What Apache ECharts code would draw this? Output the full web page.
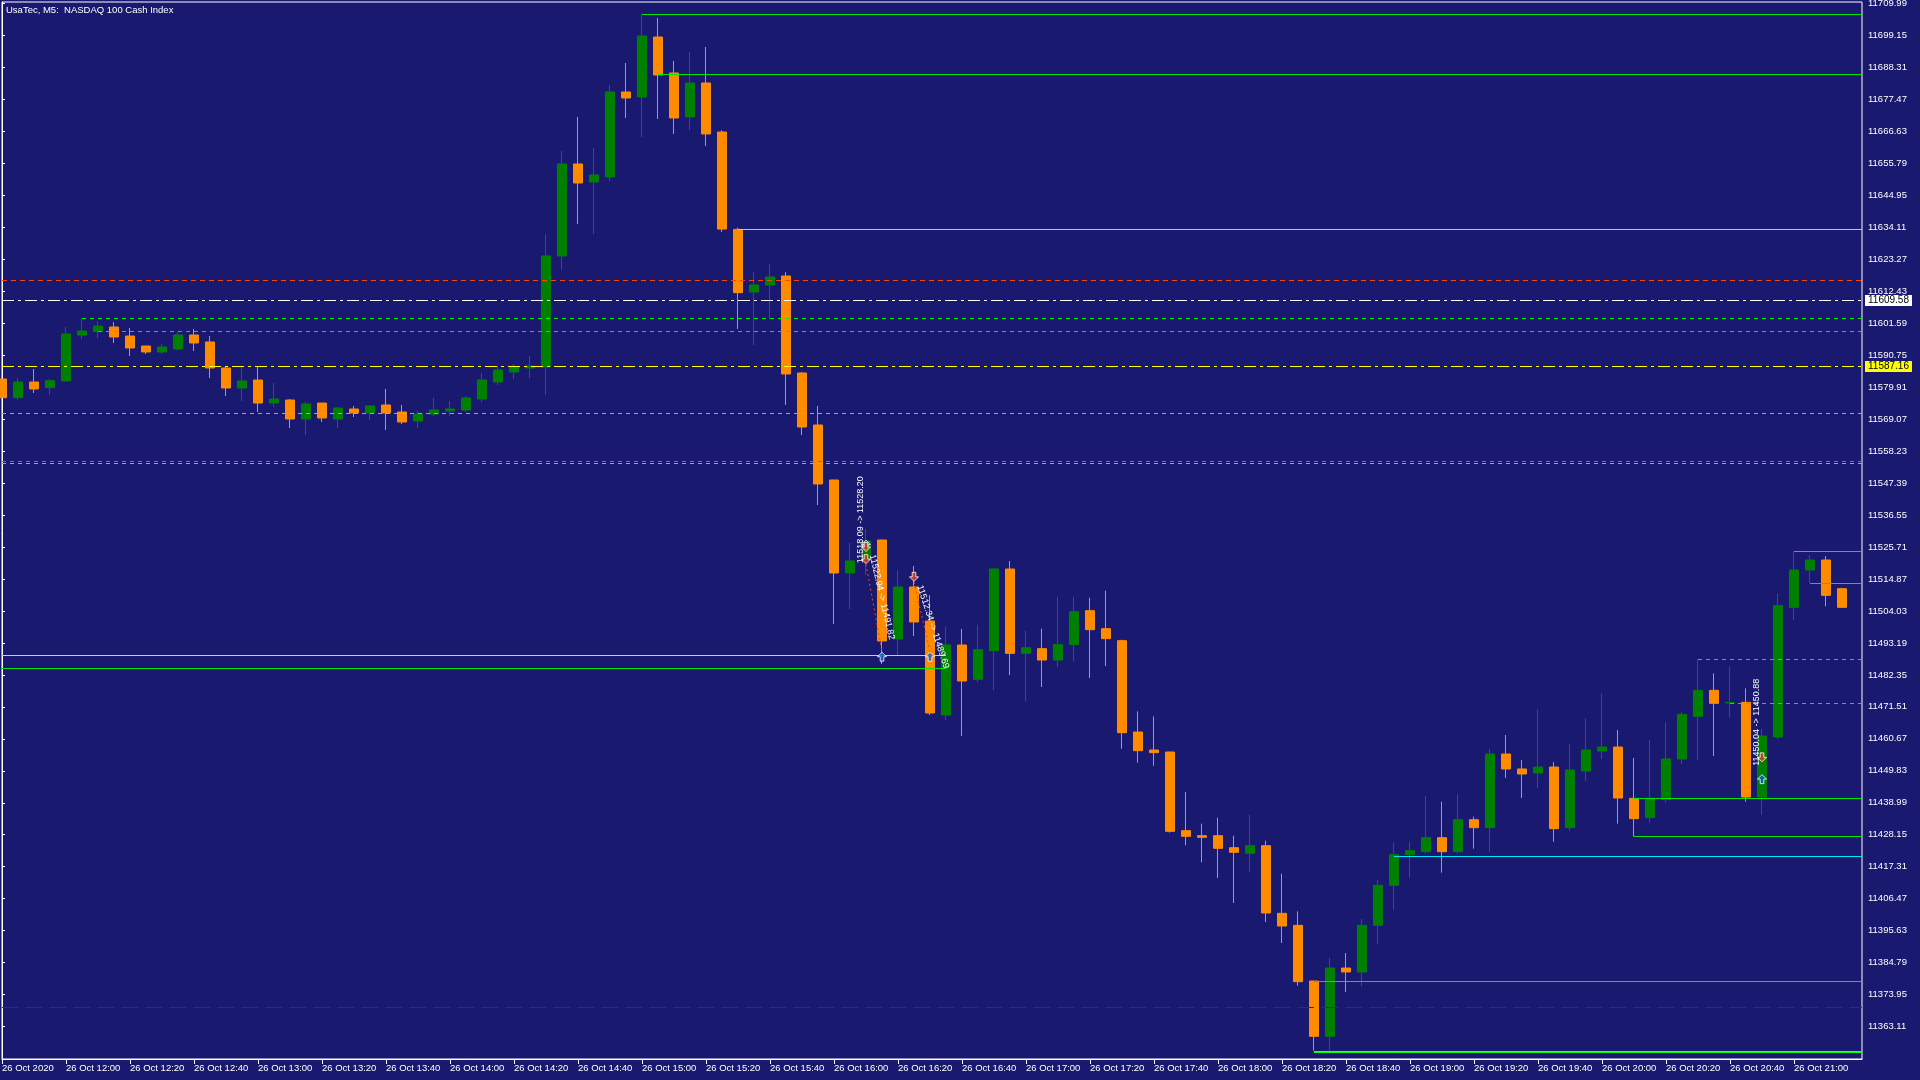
<!DOCTYPE html>
<html><head><meta charset="utf-8">
<script src="https://cdn.jsdelivr.net/npm/echarts@6/dist/echarts.min.js"></script>
<style>html,body{margin:0;padding:0;background:#191970;}#c{width:1920px;height:1080px;}</style>
</head><body><div id="c"></div>
<script>
// ---------------- DATA ----------------
const TITLE = 'UsaTec, M5:  NASDAQ 100 Cash Index';
const TIMES = ['11:40','11:45','11:50','11:55',
'12:00','12:05','12:10','12:15','12:20','12:25','12:30','12:35','12:40','12:45','12:50','12:55',
'13:00','13:05','13:10','13:15','13:20','13:25','13:30','13:35','13:40','13:45','13:50','13:55',
'14:00','14:05','14:10','14:15','14:20','14:25','14:30','14:35','14:40','14:45','14:50','14:55',
'15:00','15:05','15:10','15:15','15:20','15:25','15:30','15:35','15:40','15:45','15:50','15:55',
'16:00','16:05','16:10','16:15','16:20','16:25','16:30','16:35','16:40','16:45','16:50','16:55',
'17:00','17:05','17:10','17:15','17:20','17:25','17:30','17:35','17:40','17:45','17:50','17:55',
'18:00','18:05','18:10','18:15','18:20','18:25','18:30','18:35','18:40','18:45','18:50','18:55',
'19:00','19:05','19:10','19:15','19:20','19:25','19:30','19:35','19:40','19:45','19:50','19:55',
'20:00','20:05','20:10','20:15','20:20','20:25','20:30','20:35','20:40','20:45','20:50','20:55',
'21:00','21:05','21:10','21:15'];
const OPEN = [11582.67,11576.34,11581.65,11579.73,
11581.99,11597.59,11598.72,11600.30,11597.25,11593.86,11591.83,11592.84,11597.59,11595.22,11586.40,11579.62,
11582.33,11574.53,11575.55,11569.11,11574.53,11569.11,11572.50,11571.14,11573.86,11571.48,11568.43,11570.80,
11571.83,11572.16,11575.89,11581.66,11585.05,11586.41,11586.75,11624.38,11655.58,11649.47,11651.17,11679.99,
11678.29,11698.63,11686.43,11671.51,11683.04,11666.42,11633.40,11612.17,11614.54,11617.60,11584.71,11567.08,
11548.43,11516.90,11521.30,11528.08,11494.52,11512.15,11500.62,11468.75,11492.48,11480.84,11490.56,11518.25,
11489.65,11491.24,11487.39,11492.59,11504.12,11498.02,11493.95,11462.98,11456.88,11456.20,11429.53,11427.83,
11427.83,11423.76,11421.84,11424.44,11401.50,11397.43,11378.56,11359.79,11382.96,11381.61,11397.43,11410.99,
11421.39,11422.41,11427.15,11422.41,11433.26,11430.55,11455.52,11450.44,11449.08,11451.11,11430.55,11449.76,
11456.54,11457.89,11440.49,11433.94,11440.15,11453.83,11468.29,11477.11,11472.80,11473.04,11440.94,11461.29,
11505.25,11517.91,11521.30,11511.58];
const CLOSE = [11576.34,11581.65,11579.28,11582.10,
11597.93,11598.95,11600.64,11596.91,11593.18,11591.83,11593.52,11597.59,11594.88,11586.40,11579.62,11581.99,
11574.53,11575.89,11569.11,11574.19,11569.45,11572.84,11571.14,11573.52,11571.14,11568.09,11570.80,11572.16,
11572.50,11576.23,11582.34,11585.72,11586.75,11587.08,11624.38,11655.58,11649.13,11651.85,11679.99,11677.95,
11698.97,11685.75,11671.17,11683.04,11665.75,11633.50,11611.94,11614.54,11617.26,11584.37,11566.40,11547.07,
11516.90,11520.96,11527.75,11493.84,11512.15,11500.28,11469.43,11492.48,11480.28,11490.90,11518.25,11489.65,
11491.57,11487.39,11492.59,11503.78,11497.68,11494.63,11462.76,11456.65,11455.97,11429.30,11427.61,11427.27,
11423.54,11422.18,11424.44,11401.61,11397.20,11378.33,11359.79,11382.96,11381.61,11397.43,11410.99,11421.39,
11422.75,11427.15,11422.41,11433.26,11430.55,11455.52,11450.44,11448.74,11451.11,11430.21,11450.10,11456.88,
11457.89,11440.60,11433.60,11440.49,11453.83,11468.97,11477.11,11472.70,11473.00,11440.94,11461.62,11505.82,
11517.91,11521.30,11509.32,11505.25];
const LOW = [11575.80,11575.66,11577.92,11577.25,
11581.80,11596.23,11596.57,11594.88,11590.47,11591.15,11591.15,11592.50,11592.16,11583.01,11576.91,11575.21,
11571.48,11573.18,11566.06,11563.68,11568.09,11566.06,11569.79,11568.77,11565.38,11567.41,11566.06,11570.12,
11570.24,11571.49,11574.88,11580.64,11582.68,11583.02,11577.25,11619.64,11635.23,11631.84,11649.81,11671.17,
11664.73,11670.83,11665.75,11667.10,11661.68,11632.50,11599.63,11594.20,11603.02,11573.86,11563.69,11539.95,
11499.60,11504.69,11516.22,11486.04,11488.75,11495.54,11468.75,11467.06,11461.63,11479.93,11477.22,11482.31,
11473.49,11478.24,11485.02,11487.05,11481.29,11485.36,11457.33,11452.58,11451.57,11428.85,11424.56,11418.79,
11413.48,11405.00,11415.40,11398.56,11391.44,11376.97,11354.94,11354.94,11374.83,11376.86,11391.10,11402.63,
11413.48,11421.73,11415.29,11421.73,11423.42,11422.41,11447.39,11440.60,11443.99,11425.80,11429.53,11446.37,
11453.83,11431.90,11427.49,11432.24,11439.02,11452.13,11453.49,11454.84,11467.95,11439.36,11434.95,11460.61,
11500.84,11513.50,11505.59,11505.20];
const HIGH = [11583.50,11583.01,11586.06,11582.67,
11600.30,11603.24,11602.34,11602.00,11599.96,11593.86,11594.54,11598.61,11599.62,11597.25,11587.08,11586.74,
11586.74,11581.31,11575.89,11574.87,11574.53,11573.18,11573.52,11573.86,11579.28,11573.86,11571.82,11576.23,
11575.22,11576.91,11584.71,11587.08,11587.76,11590.48,11631.84,11659.98,11671.51,11660.99,11682.36,11689.82,
11706.43,11705.08,11690.50,11693.55,11695.25,11667.00,11634.00,11618.95,11621.66,11618.95,11585.05,11573.52,
11548.50,11527.07,11531.81,11528.20,11517.91,11519.27,11509.43,11498.59,11497.91,11499.37,11518.59,11520.96,
11497.34,11498.02,11508.87,11508.87,11508.53,11510.90,11494.29,11469.99,11468.29,11456.30,11442.64,11431.90,
11433.94,11427.83,11434.95,11426.14,11414.95,11402.18,11378.60,11386.35,11388.05,11399.58,11412.69,11425.46,
11425.80,11441.28,11439.36,11441.96,11434.28,11457.22,11461.96,11453.49,11470.67,11452.81,11458.91,11467.62,
11476.09,11463.66,11454.17,11460.27,11466.37,11469.65,11487.62,11482.87,11485.25,11477.79,11464.00,11509.88,
11524.24,11523.00,11522.66,11511.92];

const Y_TICKS = [11363.11,11373.95,11384.79,11395.63,11406.47,11417.31,11428.15,11438.99,11449.83,11460.67,
11471.51,11482.35,11493.19,11504.03,11514.87,11525.71,11536.55,11547.39,11558.23,11569.07,11579.91,11590.75,
11601.59,11612.43,11623.27,11634.11,11644.95,11655.79,11666.63,11677.47,11688.31,11699.15,11709.99];
const X_TICK_TIMES = ['11:40','12:00','12:20','12:40','13:00','13:20','13:40','14:00','14:20','14:40','15:00','15:20',
'15:40','16:00','16:20','16:40','17:00','17:20','17:40','18:00','18:20','18:40','19:00','19:20','19:40','20:00',
'20:20','20:40','21:00'];
const X_TICK_LABELS = ['26 Oct 2020','26 Oct 12:00','26 Oct 12:20','26 Oct 12:40','26 Oct 13:00','26 Oct 13:20',
'26 Oct 13:40','26 Oct 14:00','26 Oct 14:20','26 Oct 14:40','26 Oct 15:00','26 Oct 15:20','26 Oct 15:40',
'26 Oct 16:00','26 Oct 16:20','26 Oct 16:40','26 Oct 17:00','26 Oct 17:20','26 Oct 17:40','26 Oct 18:00',
'26 Oct 18:20','26 Oct 18:40','26 Oct 19:00','26 Oct 19:20','26 Oct 19:40','26 Oct 20:00','26 Oct 20:20',
'26 Oct 20:40','26 Oct 21:00'];

// horizontal price levels (from time: null = left edge; to time: null = right edge)
const LEVEL_PRICE = [11706.33,11685.99,11633.43,11616.13,11609.58,11603.25,11598.95,11587.16,11571.04,11554.77,
11554.08,11524.24,11513.50,11487.63,11472.92,11440.50,11427.60,11421.00,11378.45,11354.90,11354.50,11369.60,
11488.99,11484.58];
const LEVEL_FROM = ['15:00','15:05','15:30',null,null,'12:05','12:10',null,null,null,
null,'21:00','21:05','20:30','20:40','20:10','20:10','18:55','18:30','18:30','18:30',null,
null,null];
const LEVEL_TO = [null,null,null,null,null,null,null,null,null,null,
null,null,null,null,null,null,null,null,null,null,null,null,
'16:35','16:35'];
const PRICE_TAGS = [11609.58, 11587.16];

// trade history marks
const TRADE_MARK_TIME = ['16:10','16:10','16:10','16:15','16:25','16:30','20:50','20:50'];
const TRADE_MARK_PRICE = [11528.20,11524.00,11519.90,11490.20,11513.90,11490.20,11452.70,11448.70];
const TRADE_MARK_SIDE = ['buy','sell','sell','buy','sell','buy','sell','buy'];
const TRADE_LINK_FROM = [2, 4];
const TRADE_LINK_TO = [3, 5];
const TRADE_TEXT = ['11518.09 -> 11528.20','11522.94 -> 11491.82','11512.34 -> 11489.69','11450.04 -> 11450.88'];
const TRADE_TEXT_AT = [0, 2, 4, 6];

// ---------------- LAYOUT / STYLE ----------------
const X_MIN = 0, X_MAX = 116.25, Y_MIN = 11352.11, Y_MAX = 11710.50;
const FONT = 'Liberation Sans';
const idx = t => TIMES.indexOf(t);

const levelStyles = [
  {c:'#00e600',t:'solid'},{c:'#00e600',t:'solid'},{c:'#6fe0ff',t:'solid'},{c:'#ff4500',t:[5,4]},
  {c:'#ffffff',t:[12,4,3,4]},{c:'#00f000',t:[4,4]},{c:'#22d022',t:[4,4]},{c:'#ffff00',t:[12,4,3,4]},
  {c:'#30d0ff',t:[4,4]},{c:'#ff4500',t:[4,4]},{c:'#30d0ff',t:[4,4]},{c:'#00e600',t:'solid'},
  {c:'#00e600',t:'solid'},{c:'#00f000',t:[4,4]},{c:'#00f000',t:[4,4]},{c:'#00e600',t:'solid'},
  {c:'#00e600',t:'solid'},{c:'#00e8ff',t:'solid'},{c:'#00e600',t:'solid'},{c:'#00f0ff',t:'solid'},
  {c:'#00ff00',t:'solid'},{c:'#1a1aff',t:[16,8]},{c:'#c0c8ff',t:'solid'},{c:'#00e600',t:'solid'}
];

const candleData = TIMES.map((t, i) => [i, OPEN[i], CLOSE[i], LOW[i], HIGH[i]]);

const levelData = LEVEL_PRICE.map((p, j) => [
  LEVEL_FROM[j] == null ? X_MIN : idx(LEVEL_FROM[j]),
  LEVEL_TO[j] == null ? X_MAX : idx(LEVEL_TO[j]),
  p, j
]);

const linkLines = TRADE_LINK_FROM.map((a, j) => {
  const b = TRADE_LINK_TO[j];
  return [
    {coord:[idx(TRADE_MARK_TIME[a]), TRADE_MARK_PRICE[a]], lineStyle:{color:'#ff4500', type:[2,3], width:1}},
    {coord:[idx(TRADE_MARK_TIME[b]), TRADE_MARK_PRICE[b]]}
  ];
});

const UP = 'path://M5,0 L10,5 L7,5 L7,10 L3,10 L3,5 L0,5 Z';
const DOWN = 'path://M3,0 L7,0 L7,5 L10,5 L5,10 L0,5 L3,5 Z';
const markData = TRADE_MARK_TIME.map((t, j) => ({
  value:[idx(t), TRADE_MARK_PRICE[j]],
  symbol: TRADE_MARK_SIDE[j] === 'buy' ? UP : DOWN,
  symbolOffset: TRADE_MARK_SIDE[j] === 'buy' ? [0, 5] : [0, -5],
  itemStyle:{color: TRADE_MARK_SIDE[j] === 'buy' ? '#0a5cc8' : '#e8341c', borderColor:'#fff', borderWidth:1}
}));

// text placement relative to its anchor mark (screen px) and rotation (deg, ccw)
const textRot = [90, -77, -72, 90];
const textOff = [[-5,-20],[16,33],[19,45],[-5,-40]];
const textData = TRADE_TEXT.map((s, j) => {
  const m = TRADE_TEXT_AT[j];
  return [idx(TRADE_MARK_TIME[m]), TRADE_MARK_PRICE[m], j];
});

function renderText(params, api) {
  const j = api.value(2);
  const pt = api.coord([api.value(0), api.value(1)]);
  return {
    type:'text', silent:true,
    x: pt[0] + textOff[j][0], y: pt[1] + textOff[j][1],
    rotation: textRot[j] * Math.PI / 180,
    style:{text:TRADE_TEXT[j], fill:'#fff', font:'9px "' + FONT + '"', align:'center', verticalAlign:'middle'}
  };
}

function renderLevel(params, api) {
  const j = api.value(3);
  const p = api.value(2);
  const a = api.coord([api.value(0), p]);
  const b = api.coord([api.value(1), p]);
  const y = Math.round(a[1]) + 0.5;
  const st = levelStyles[j];
  const children = [{
    type:'line', silent:true,
    shape:{x1:Math.round(a[0]), y1:y, x2:Math.round(b[0]), y2:y},
    style:{stroke:st.c, lineWidth:1, lineDash: st.t === 'solid' ? null : st.t}
  }];
  if (PRICE_TAGS.indexOf(p) >= 0) {
    children.push({
      type:'text', silent:true, x:Math.round(b[0]) + 3, y:y,
      style:{text:p.toFixed(2), fill:'#000', backgroundColor:st.c, padding:[1,3,0,3],
        font:'10px "' + FONT + '"', verticalAlign:'middle', align:'left'}
    });
  }
  return {type:'group', children};
}

const chart = echarts.init(document.getElementById('c'), null, {renderer:'canvas', width:1920, height:1080});
chart.setOption({
  backgroundColor:'#191970',
  animation:false,
  title:{text:TITLE, left:6, top:5, padding:0, textStyle:{color:'#fff', fontFamily:FONT, fontSize:9.5, fontWeight:'normal'}},
  grid:{left:2, right:58, top:2, bottom:21, show:true, borderColor:'#fff', borderWidth:1, backgroundColor:'transparent', outerBoundsMode:'none', containLabel:false},
  xAxis:{type:'value', min:X_MIN, max:X_MAX, position:'bottom',
    axisLine:{show:true, lineStyle:{color:'#fff', width:1}},
    axisTick:{show:true, length:5, lineStyle:{color:'#fff'}, customValues: X_TICK_TIMES.map(idx)},
    axisLabel:{show:true, color:'#fff', fontFamily:FONT, fontSize:9.5, align:'left', margin:4,
      customValues: X_TICK_TIMES.map(idx),
      formatter: v => { const k = X_TICK_TIMES.indexOf(TIMES[Math.round(v)]); return k < 0 ? '' : X_TICK_LABELS[k]; }},
    splitLine:{show:false}},
  yAxis:{type:'value', position:'right', min:Y_MIN, max:Y_MAX, scale:true,
    axisLine:{show:true, lineStyle:{color:'#fff', width:1}},
    axisTick:{show:true, length:3, lineStyle:{color:'#fff'}, customValues:Y_TICKS},
    axisLabel:{show:true, color:'#fff', fontFamily:FONT, fontSize:9.5, margin:6, customValues:Y_TICKS,
      formatter: v => v.toFixed(2)},
    splitLine:{show:false}},
  series:[
    {type:'candlestick', data:candleData, encode:{x:0, y:[1,2,3,4]}, barWidth:10, z:2,
      itemStyle:{color:'#008000', color0:'#ff8c00', borderColor:'#008000', borderColor0:'#ff8c00', borderWidth:1},
      markLine:{silent:true, symbol:['none','none'], animation:false, label:{show:false}, data: linkLines}
    },
    {type:'custom', data:levelData, encode:{x:[0,1], y:2}, renderItem:renderLevel, clip:false, z:3, silent:true},
    {type:'custom', data:textData, encode:{x:0, y:1}, renderItem:renderText, clip:false, z:6, silent:true},
    {type:'scatter', data:markData, symbolSize:9, z:5, silent:true}
  ]
});
</script></body></html>
